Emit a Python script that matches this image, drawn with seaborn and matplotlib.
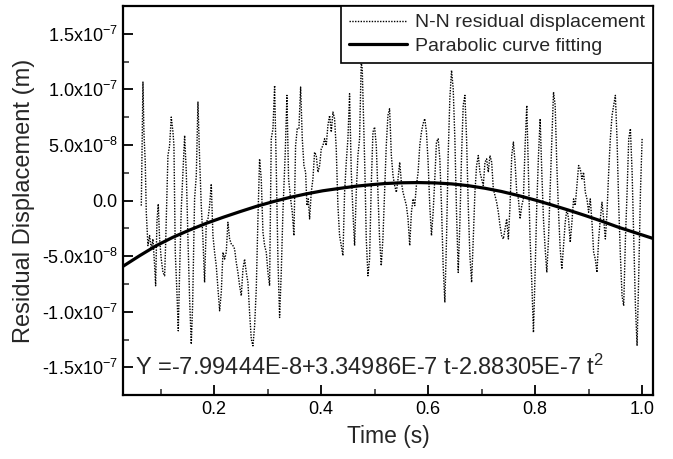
import numpy as np
import pandas as pd
import matplotlib
matplotlib.use("Agg")
import matplotlib.pyplot as plt
from matplotlib.ticker import FixedLocator, FixedFormatter, MultipleLocator
import seaborn as sns

# time (s) and N-N residual displacement (x1e-8 m)
time_s = [
    0.0639, 0.0670, 0.0688, 0.0713, 0.0732, 0.0763, 0.0794, 0.0826, 0.0857, 0.0888,
    0.0907, 0.0931, 0.0956, 0.0981, 0.1012, 0.1044, 0.1075, 0.1093, 0.1137, 0.1168,
    0.1199, 0.1231, 0.1249, 0.1274, 0.1305, 0.1330, 0.1355, 0.1386, 0.1417, 0.1449,
    0.1480, 0.1511, 0.1542, 0.1573, 0.1598, 0.1635, 0.1667, 0.1698, 0.1729, 0.1760,
    0.1791, 0.1822, 0.1854, 0.1885, 0.1916, 0.1947, 0.1978, 0.2009, 0.2040, 0.2072,
    0.2103, 0.2134, 0.2165, 0.2196, 0.2227, 0.2258, 0.2290, 0.2321, 0.2352, 0.2383,
    0.2414, 0.2445, 0.2477, 0.2508, 0.2539, 0.2570, 0.2601, 0.2632, 0.2663, 0.2695,
    0.2726, 0.2757, 0.2788, 0.2819, 0.2850, 0.2881, 0.2913, 0.2944, 0.2975, 0.3006,
    0.3037, 0.3068, 0.3100, 0.3131, 0.3162, 0.3193, 0.3224, 0.3255, 0.3286, 0.3330,
    0.3361, 0.3392, 0.3430, 0.3461, 0.3492, 0.3523, 0.3554, 0.3585, 0.3617, 0.3648,
    0.3679, 0.3710, 0.3735, 0.3760, 0.3785, 0.3816, 0.3847, 0.3878, 0.3909, 0.3941,
    0.3972, 0.4003, 0.4034, 0.4065, 0.4096, 0.4127, 0.4159, 0.4190, 0.4221, 0.4252,
    0.4283, 0.4314, 0.4345, 0.4377, 0.4408, 0.4439, 0.4470, 0.4501, 0.4532, 0.4564,
    0.4595, 0.4626, 0.4657, 0.4688, 0.4719, 0.4750, 0.4769, 0.4794, 0.4819, 0.4844,
    0.4875, 0.4906, 0.4937, 0.4969, 0.5000, 0.5031, 0.5062, 0.5093, 0.5124, 0.5155,
    0.5187, 0.5218, 0.5249, 0.5280,
    0.5313, 0.5344, 0.5375, 0.5406, 0.5438, 0.5469, 0.5500, 0.5531, 0.5563, 0.5594,
    0.5625, 0.5656, 0.5688, 0.5719, 0.5750, 0.5781, 0.5813, 0.5844, 0.5875, 0.5906,
    0.5938, 0.5969, 0.6000, 0.6031, 0.6063, 0.6094, 0.6125, 0.6156, 0.6188, 0.6219,
    0.6250, 0.6281, 0.6313, 0.6344, 0.6375, 0.6406, 0.6438, 0.6469, 0.6500, 0.6531,
    0.6563, 0.6594, 0.6625, 0.6656, 0.6688, 0.6719, 0.6750, 0.6781, 0.6813, 0.6844,
    0.6875, 0.6906, 0.6938, 0.6969, 0.7000, 0.7031, 0.7063, 0.7094, 0.7125, 0.7156,
    0.7188, 0.7219, 0.7250, 0.7281, 0.7313, 0.7344, 0.7375, 0.7406, 0.7438, 0.7469,
    0.7500, 0.7531, 0.7563, 0.7594, 0.7625, 0.7656, 0.7688, 0.7719, 0.7750, 0.7781,
    0.7813, 0.7844, 0.7875, 0.7906, 0.7938, 0.7969, 0.8000, 0.8031, 0.8063, 0.8094,
    0.8125, 0.8156, 0.8188, 0.8219, 0.8250, 0.8281, 0.8313, 0.8344, 0.8375, 0.8406,
    0.8438, 0.8469, 0.8500, 0.8531, 0.8563, 0.8594, 0.8625, 0.8656, 0.8688, 0.8719,
    0.8750, 0.8781, 0.8813, 0.8844, 0.8875, 0.8906, 0.8938, 0.8969, 0.9000, 0.9031,
    0.9063, 0.9094, 0.9125, 0.9156, 0.9188, 0.9219, 0.9250, 0.9281, 0.9313, 0.9344,
    0.9375, 0.9406, 0.9438, 0.9469, 0.9500, 0.9531, 0.9563, 0.9594, 0.9625, 0.9656,
    0.9688, 0.9719, 0.9750, 0.9781, 0.9813, 0.9844, 0.9875, 0.9906, 0.9938, 0.9969,
    1.0000,
]
residual_e8 = [
    -0.45, 10.66, 6.16, 3.45, -1.05, -4.05, -3.15, -4.35, -3.45, -5.86,
    -7.66, -1.95, -0.30, -3.45, -5.26, -6.46, -6.76, -4.05, 4.05, 4.95,
    7.51, 6.16, 4.95, -4.65, -8.26, -11.71, -6.46, -0.75, 2.55, 5.86,
    2.55, -3.45, -8.86, -12.91, -9.46, 0.15, 2.25, 8.86, 3.75, -0.45,
    -3.45, -7.36, -1.95, -1.65, -0.45, 1.50, -3.15, -4.65, -5.86, -7.96,
    -9.91, -8.26, -4.65, -5.26, -4.65, -1.95, -3.45, -3.90, -4.05, -4.35,
    -5.56, -6.46, -7.66, -8.56, -6.16, -5.26, -6.46, -7.36, -10.06, -12.46,
    -13.06, -11.26, -7.96, -1.65, 3.75, 1.95, -2.85, -4.05, -4.65, -6.46,
    -7.66, 5.56, 6.46, 10.36, 2.85, -5.26, -10.51, -6.46, -1.05, 4.35,
    9.46, 1.95, 0.15, -1.05, -3.15, 4.95, 6.46, 6.46, 10.21, 5.56,
    3.15, 2.55, -0.45, 0.15, -1.65, 0.75, 1.95, 4.35, 4.05, 2.55,
    3.15, 4.65, 4.95, 5.56, 4.95, 6.76, 7.66, 6.16, 7.96, 7.36,
    4.65, -0.45, -3.15, -4.05, -4.95, 0.75, 3.45, 5.56, 9.61, 2.55,
    -1.05, -4.05, 0.75, 4.05, 5.56, 12.46, 11.86, 7.06, 2.55, -3.45,
    -6.76, -5.26, 1.35, 6.16, 6.61, 4.95, 0.75, -3.45, -5.86, -3.45,
    0.75, 4.95, 7.66, 8.26,
    4.05, 2.25, 1.35, 0.75, 1.95, 3.45, 1.65, 0.75, 0.15, -0.45,
    -1.65, -4.05, -1.05, 0.15, -0.45, 1.35, 2.55, 4.95, 6.16, 6.91,
    7.36, 6.16, 3.45, -0.45, -3.15, -1.05, 1.95, 5.26, 5.56, 3.75,
    -0.45, -5.86, -9.16, -3.45, 4.05, 9.16, 11.71, 10.06, 5.56, -1.05,
    -6.46, -1.95, 4.05, 8.56, 9.46, 5.56, -0.45, -4.95, -7.36, -3.45,
    0.75, 3.15, 4.05, 2.55, 1.95, 1.35, 3.45, 3.75, 2.55, 4.05,
    3.45, 1.05, 0.45, -0.15, -1.05, -2.25, -3.15, -3.45, -2.55, -1.65,
    -3.45, -0.45, 4.05, 5.26, 3.45, 0.75, 0.15, -1.65, -0.45, 0.15,
    4.95, 8.56, 2.55, -3.45, -7.36, -11.86, -6.46, -0.45, 4.05, 7.36,
    2.55, -1.65, -4.35, -6.46, -3.45, 1.05, 5.56, 9.76, 8.56, 3.15,
    -1.05, -4.35, -6.16, -4.05, -1.95, -0.75, -1.65, -3.75, -1.95, 0.15,
    -0.45, 1.35, 3.15, 2.85, 1.95, 2.55, 0.75, 0.15, -1.05, 0.15,
    -1.95, -4.65, -5.26, -6.46, -3.45, -1.65, -0.15, -1.65, -3.45, -1.05,
    2.55, 5.56, 7.66, 8.56, 9.46, 5.56, -0.45, -4.95, -8.56, -9.46,
    -3.45, 0.75, 5.56, 6.46, 2.55, -3.45, -9.46, -13.06, -6.46, 0.75,
    5.56,
]

# parabolic fit curve (x1e-8 m)
fit_time_s = [0.030, 0.061, 0.092, 0.123, 0.154, 0.185, 0.217, 0.248, 0.279, 0.310,
              0.341, 0.372, 0.403, 0.435, 0.466, 0.497, 0.519, 0.550, 0.581, 0.612,
              0.644, 0.675, 0.706, 0.737, 0.769, 0.800, 0.831, 0.862, 0.894, 0.925,
              0.956, 0.988, 1.020]
fit_e8 = [-5.9, -4.95, -4.05, -3.3, -2.65, -2.05, -1.5, -1.0, -0.52, -0.1,
          0.28, 0.6, 0.88, 1.1, 1.3, 1.44, 1.53, 1.6, 1.62, 1.59,
          1.5, 1.34, 1.11, 0.82, 0.45, 0.05, -0.39, -0.85, -1.35, -1.86,
          -2.4, -2.9, -3.4]

ytick_vals = [-1.5e-7, -1.0e-7, -5.0e-8, 0.0, 5.0e-8, 1.0e-7, 1.5e-7]
ytick_labels = ["-1.5x10$^{-7}$", "-1.0x10$^{-7}$", "-5.0x10$^{-8}$", "0.0",
                "5.0x10$^{-8}$", "1.0x10$^{-7}$", "1.5x10$^{-7}$"]
xtick_vals = [0.2, 0.4, 0.6, 0.8, 1.0]
xtick_labels = ["0.2", "0.4", "0.6", "0.8", "1.0"]

df = pd.DataFrame({"t": time_s, "y": np.array(residual_e8) * 1e-8})
fit = pd.DataFrame({"t": fit_time_s, "y": np.array(fit_e8) * 1e-8})

sns.set_style("ticks")
plt.rcParams["font.family"] = ["Liberation Sans", "DejaVu Sans"]
plt.rcParams["mathtext.fontset"] = "custom"
plt.rcParams["mathtext.rm"] = "Liberation Sans"
plt.rcParams["mathtext.it"] = "Liberation Sans"
plt.rcParams["axes.unicode_minus"] = False

fig, ax = plt.subplots(figsize=(6.73, 4.59), dpi=100)
fig.subplots_adjust(left=0.183, right=0.970, top=0.987, bottom=0.139)

sns.lineplot(data=df, x="t", y="y", ax=ax, color="black", lw=1.0,
             linestyle=(0, (1, 1)), estimator=None, sort=False,
             label="N-N residual displacement")
sns.lineplot(data=fit, x="t", y="y", ax=ax, color="black", lw=2.3,
             estimator=None, sort=False, label="Parabolic curve fitting")

ax.set_xlim(0.03, 1.02)
ax.set_ylim(-1.75e-7, 1.75e-7)
ax.xaxis.set_major_locator(FixedLocator(xtick_vals))
ax.xaxis.set_major_formatter(FixedFormatter(xtick_labels))
ax.xaxis.set_minor_locator(MultipleLocator(0.1))
ax.yaxis.set_major_locator(FixedLocator(ytick_vals))
ax.yaxis.set_major_formatter(FixedFormatter(ytick_labels))
ax.yaxis.set_minor_locator(MultipleLocator(2.5e-8))
ax.tick_params(which="major", direction="in", length=7, width=1.3,
               labelsize=13, colors="black", pad=4)
ax.tick_params(which="minor", direction="in", length=4, width=1.1)
for s in ax.spines.values():
    s.set_linewidth(1.6)
    s.set_color("black")

ax.set_xlabel("Time (s)", fontsize=16.5, labelpad=5)
ax.set_ylabel("Residual Displacement (m)", fontsize=17, labelpad=5)

ax.text(0.052, -1.5e-7, "Y =-7.99444E-8+3.34986E-7 t-2.88305E-7 t$^2$",
        fontsize=17, va="center", ha="left")

leg = ax.legend(loc="upper right", fontsize=14, frameon=True, fancybox=False,
                edgecolor="black", borderaxespad=0, handlelength=3.0,
                handletextpad=0.4, labelspacing=0.3, borderpad=0.4)
leg.get_frame().set_linewidth(1.2)
leg.get_frame().set_alpha(1)

fig.savefig("out.png", dpi=100)
